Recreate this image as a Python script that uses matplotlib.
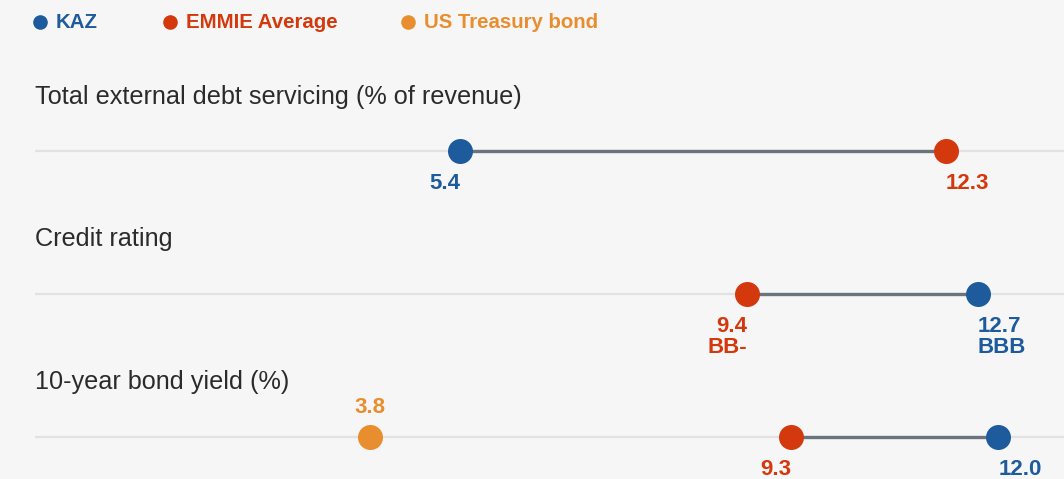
import matplotlib
matplotlib.use("Agg")
import matplotlib.pyplot as plt
from matplotlib.lines import Line2D

# data
titles = ["Total external debt servicing (% of revenue)",
          "Credit rating",
          "10-year bond yield (%)"]
kaz = [5.4, 12.7, 12.0]
emmie = [12.3, 9.4, 9.3]
us_bond = [None, None, 3.8]
kaz_rating = ["", "BBB", ""]
emmie_rating = ["", "BB-", ""]
series_names = ["KAZ", "EMMIE Average", "US Treasury bond"]

BLUE = "#1d5b9c"
RED = "#d4380d"
ORANGE = "#e98e2f"
BG = "#f6f6f6"
TRACK = "#e2e2e2"
LINK = "#6b737d"

plt.rcParams["font.family"] = ["Liberation Sans", "DejaVu Sans"]

W, H = 1064, 479
fig = plt.figure(figsize=(W / 100, H / 100), dpi=100)
fig.patch.set_facecolor(BG)

def fx(px):
    return px / W

def fy(py):
    return 1 - py / H

# legend
leg_x = [40, 170, 408]
for name, col, x in zip(series_names, [BLUE, RED, ORANGE], leg_x):
    fig.add_artist(Line2D([fx(x)], [fy(22)], transform=fig.transFigure,
                          marker="o", ms=10.5, color=col, mec="none"))
    fig.text(fx(x + 16), fy(22), name, color=col, fontsize=14.7,
             fontweight="bold", ha="left", va="center")

# rows
line_y = [151, 294, 437]
title_y = [97, 239, 382]
xlims = [(-0.635, 13.975), (-0.771, 13.93), (-0.574, 12.86)]
left, right = 35, 1064
axh = 80

for i in range(3):
    fig.text(fx(35), fy(title_y[i]), titles[i], color="#2b2b2b",
             fontsize=18.2, ha="left", va="center")
    ax = fig.add_axes([fx(left), fy(line_y[i] + axh / 2),
                       (right - left) / W, axh / H])
    ax.set_xlim(*xlims[i])
    ax.set_ylim(-1, 1)
    ax.axis("off")
    ax.axhline(0, color=TRACK, lw=1.6, zorder=1)
    lo, hi = sorted([kaz[i], emmie[i]])
    ax.plot([lo, hi], [0, 0], color=LINK, lw=2.4, zorder=2)

    for val, col, rating in [(kaz[i], BLUE, kaz_rating[i]),
                             (emmie[i], RED, emmie_rating[i])]:
        ax.plot(val, 0, "o", color=col, ms=18, mec="none", zorder=3)
        ha = "right" if val == lo else "left"
        txt = f"{val:.1f}" + (f"\n{rating}" if rating else "")
        ax.annotate(txt, (val, 0), xytext=(0, -15.5), textcoords="offset points",
                    ha=ha, va="top", color=col, fontsize=16,
                    fontweight="bold", linespacing=1.05, annotation_clip=False)

    if us_bond[i] is not None:
        ax.plot(us_bond[i], 0, "o", color=ORANGE, ms=18, mec="none", zorder=3)
        ax.annotate(f"{us_bond[i]:.1f}", (us_bond[i], 0), xytext=(0, 14),
                    textcoords="offset points", ha="center", va="bottom",
                    color=ORANGE, fontsize=16, fontweight="bold",
                    annotation_clip=False)

fig.savefig("out.png", dpi=100, facecolor=BG)
